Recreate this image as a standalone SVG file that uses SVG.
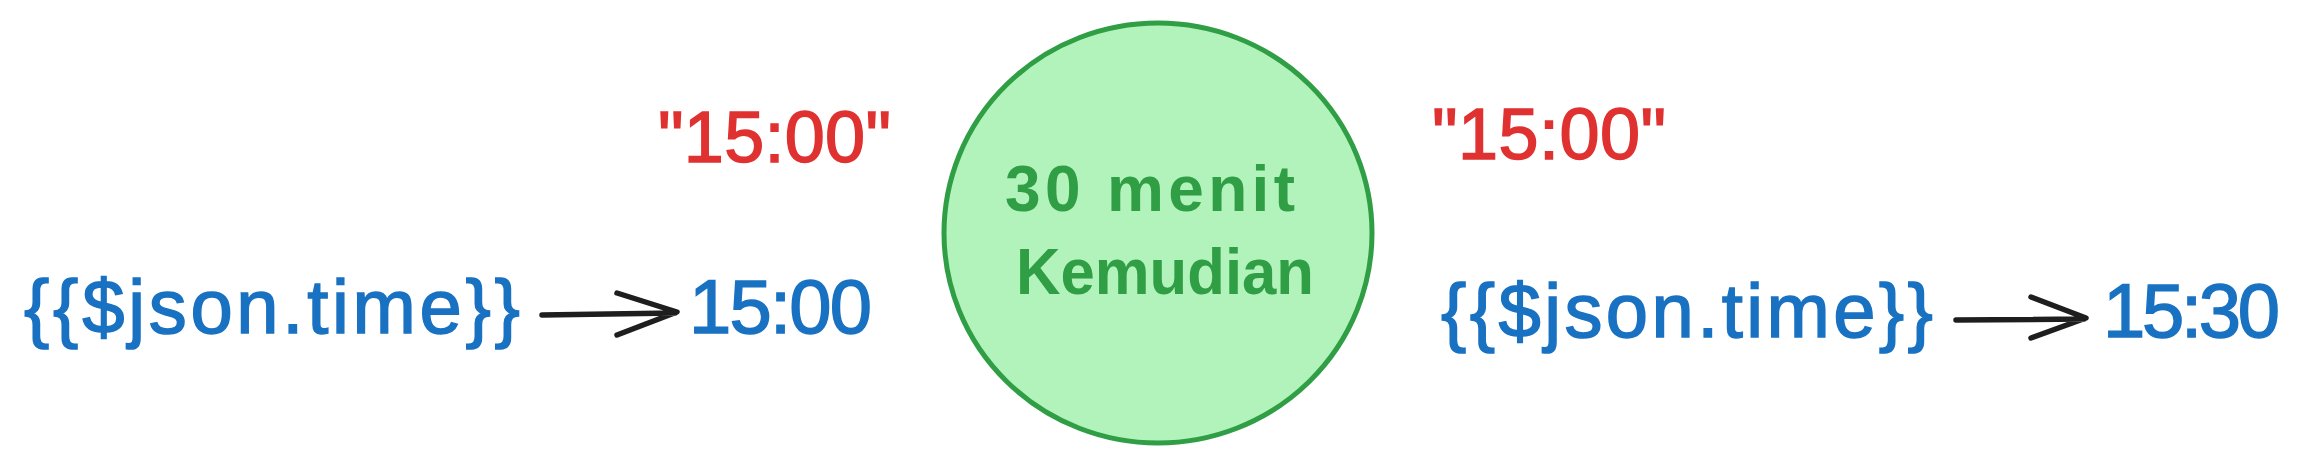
<svg xmlns="http://www.w3.org/2000/svg" width="2308" height="464" viewBox="0 0 2308 464">
<style>
text{font-family:"Liberation Sans","Open Sans",sans-serif;}
.red{fill:#e03131;stroke:#e03131;stroke-width:1.5;font-size:72px;}
.blue{fill:#1971c2;stroke:#1971c2;stroke-width:1.5;font-size:76px;}
.green{fill:#2f9e44;font-size:64px;font-weight:bold;}
.conn{fill:none;stroke:#1e1e1e;stroke-width:5.5;stroke-linecap:round;stroke-linejoin:round;}
</style>
<rect width="2308" height="464" fill="#ffffff"/>
<g id="left-input">
<text class="red" x="658" y="162" textLength="233">"15:00"</text>
<text class="blue" x="24" y="333" textLength="496">{{$json.time}}</text>
</g>
<g id="left-output">
<text class="blue" x="689" y="333" textLength="183">15:00</text>
</g>
<g id="circle">
<ellipse cx="1158" cy="233" rx="214" ry="210" fill="#b2f2bb" stroke="#2f9e44" stroke-width="5"/>
<text class="green" x="1005" y="211" textLength="290">30 menit</text>
<text class="green" x="1016" y="294" textLength="298" lengthAdjust="spacingAndGlyphs">Kemudian</text>
</g>
<g id="right-input">
<text class="red" x="1432" y="159" textLength="234">"15:00"</text>
<text class="blue" x="1441" y="337" textLength="492">{{$json.time}}</text>
</g>
<g id="right-output">
<text class="blue" x="2103" y="337" textLength="177">15:30</text>
</g>
<g id="connectors">
<path class="conn" d="M542 315 L675 313 M617 293 L677 312 L617 335"/>
<path class="conn" d="M1956 320 L2084 319 M2031 297 L2086 318 L2031 338"/>
</g>
</svg>
